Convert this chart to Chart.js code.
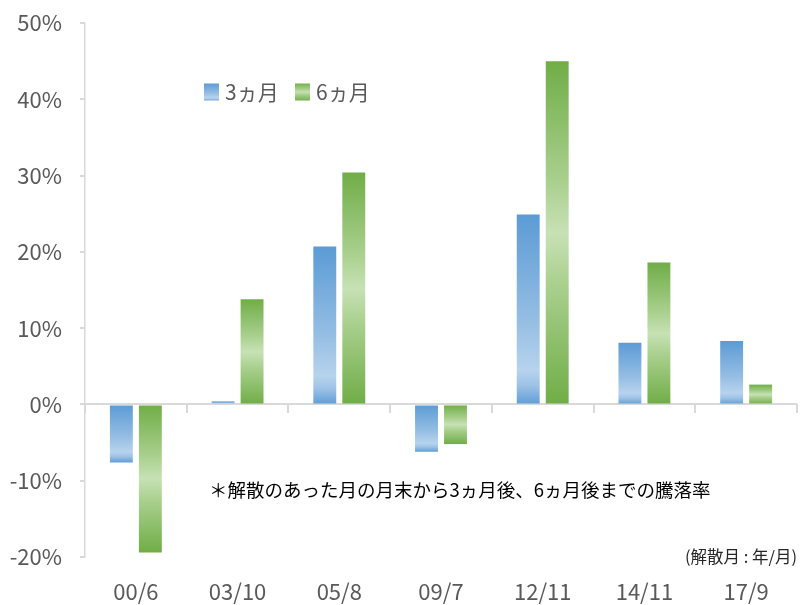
<!DOCTYPE html>
<html>
<head>
<meta charset="utf-8">
<script src="https://cdn.jsdelivr.net/npm/chart.js@4/dist/chart.umd.min.js"></script>
<style>
  html, body { margin: 0; padding: 0; background: #fff; }
  #wrap { width: 808px; height: 605px; position: relative; }
</style>
</head>
<body>
<div id="wrap"><canvas id="chart"></canvas></div>
<script>
// Data
const categories = ['00/6', '03/10', '05/8', '09/7', '12/11', '14/11', '17/9'];
const months3 = [-7.6, 0.4, 20.7, -6.2, 24.9, 8.1, 8.3];
const months6 = [-19.4, 13.8, 30.4, -5.2, 45.0, 18.6, 2.6];
const seriesNames = ['3ヵ月', '6ヵ月'];
const noteText = '＊解散のあった月の月末から3ヵ月後、6ヵ月後までの騰落率';
const unitText = '(解散月 : 年/月)';

const FONT = '"Noto Sans CJK JP", "Noto Sans", sans-serif';
const GREY = '#595959';
const LINE = '#d9d9d9';

// Excel-like gradient fills, top to bottom of each bar
const blueStops = [[0, '#5b9bd5'], [0.55, '#94bde3'], [0.82, '#b7d3ed'], [0.9, '#9dc2e6'], [1, '#5f9dd6']];
const greenStops = [[0, '#70ad47'], [0.35, '#a9d08e'], [0.5, '#c7e1b5'], [0.65, '#a9d08e'], [1, '#70ad47']];

function makeGradient(ctx, y0, y1, stops) {
  const g = ctx.createLinearGradient(0, y0, 0, y1);
  stops.forEach(s => g.addColorStop(s[0], s[1]));
  return g;
}

function barFill(stops) {
  return function(context) {
    const chart = context.chart;
    const yScale = chart.scales.y;
    if (!yScale || context.type !== 'data') return stops[0][1];
    const a = yScale.getPixelForValue(context.raw);
    const b = yScale.getPixelForValue(0);
    if (!isFinite(a) || !isFinite(b) || a === b) return stops[0][1];
    return makeGradient(chart.ctx, Math.min(a, b), Math.max(a, b), stops);
  };
}

// legend and notes drawn inside the plot
const notesPlugin = {
  id: 'notes',
  afterDraw(chart) {
    const ctx = chart.ctx;
    const area = chart.chartArea;
    ctx.save();
    ctx.textBaseline = 'middle';

    // legend
    const fills = [blueStops, greenStops];
    let lx = area.left + 119;
    const ly = area.top + 69;
    ctx.font = '21px ' + FONT;
    chart.data.datasets.forEach((ds, i) => {
      ctx.fillStyle = makeGradient(ctx, ly - 9, ly + 9, fills[i]);
      ctx.fillRect(lx, ly - 8.5, 15, 17);
      ctx.fillStyle = GREY;
      ctx.textAlign = 'left';
      ctx.fillText(ds.label, lx + 21, ly);
      lx += 91;
    });

    // footnote
    ctx.fillStyle = '#000';
    ctx.font = '18.5px ' + FONT;
    ctx.fillText(noteText, area.left + 124, area.top + 467);

    // unit label
    ctx.fillStyle = '#262626';
    ctx.font = '16.5px ' + FONT;
    ctx.textAlign = 'right';
    ctx.fillText(unitText, 797, area.bottom);
    ctx.restore();
  }
};

new Chart(document.getElementById('chart'), {
  type: 'bar',
  data: {
    labels: categories,
    datasets: [
      { label: seriesNames[0], data: months3, backgroundColor: barFill(blueStops) },
      { label: seriesNames[1], data: months6, backgroundColor: barFill(greenStops) }
    ]
  },
  options: {
    responsive: true,
    maintainAspectRatio: false,
    animation: false,
    categoryPercentage: 0.57,
    barPercentage: 0.79,
    layout: { padding: { left: 0, right: 11, top: 23, bottom: 0 } },
    plugins: {
      legend: { display: false },
      tooltip: { enabled: false }
    },
    scales: {
      x: {
        grid: { display: false, drawTicks: false },
        border: { display: false },
        ticks: { color: GREY, font: { family: FONT, size: 22 }, padding: 21 },
        afterFit: (scale) => { scale.height = 48; }
      },
      // tick marks on the zero line
      x2: {
        type: 'category',
        labels: categories,
        position: { y: 0 },
        offset: true,
        grid: { offset: true, drawOnChartArea: false, drawTicks: true, tickLength: 9, tickColor: LINE, lineWidth: 2 },
        border: { display: false },
        ticks: { display: false },
        afterFit: (scale) => { scale.height = 0; }
      },
      y: {
        min: -20,
        max: 50,
        afterFit: (scale) => {
          scale.width = 85;
          scale.paddingTop = 0;
          scale.paddingBottom = 0;
        },
        ticks: {
          stepSize: 10,
          color: GREY,
          padding: 18,
          font: { family: FONT, size: 22 },
          callback: (v) => v + '%'
        },
        grid: {
          drawTicks: true,
          tickLength: 5,
          tickColor: LINE,
          lineWidth: 2,
          color: (c) => (c.tick && c.tick.value === 0 ? LINE : 'rgba(0,0,0,0)')
        },
        border: { color: LINE, width: 1.5 }
      }
    }
  },
  plugins: [notesPlugin]
});
</script>
</body>
</html>
